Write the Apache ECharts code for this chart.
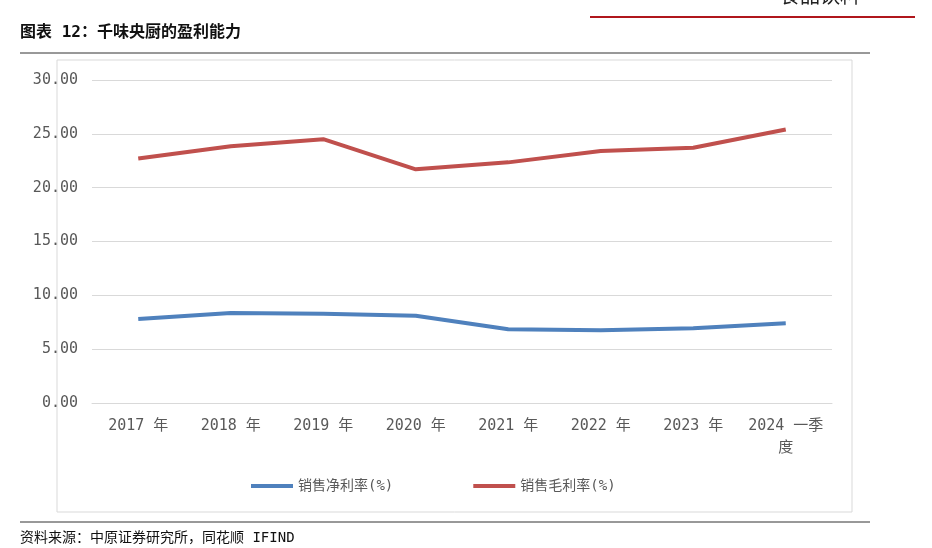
<!DOCTYPE html>
<html>
<head>
<meta charset="utf-8">
<script src="https://cdn.jsdelivr.net/npm/echarts@6/dist/echarts.min.js"></script>
<style>html,body{margin:0;padding:0;background:#fff}#main{width:932px;height:548px}</style>
</head>
<body>
<div id="main"></div>
<script>
var categories = ['2017 年', '2018 年', '2019 年', '2020 年', '2021 年', '2022 年', '2023 年', '2024 一季\n度'];
var netMargin = [7.8, 8.35, 8.3, 8.1, 6.85, 6.75, 6.95, 7.4];
var grossMargin = [22.7, 23.85, 24.5, 21.7, 22.35, 23.4, 23.7, 25.4];
var yTicks = [0, 5, 10, 15, 20, 25, 30];

var font = '"DejaVu Sans Mono", "Noto Sans CJK SC", monospace';
var myChart = echarts.init(document.getElementById('main'));

var option = {
	animation: false,
	textStyle: {fontFamily: font},
	graphic: [
		{type: 'text', left: 780, top: -12, style: {text: '食品饮料', font: '20px ' + font, fill: '#222'}},
		{type: 'line', shape: {x1: 590, y1: 17, x2: 915, y2: 17}, style: {stroke: '#b0161c', lineWidth: 2}},
		{type: 'text', left: 20, top: 25, style: {text: '图表 12：千味央厨的盈利能力', font: 'bold 16px ' + font, fill: '#111'}},
		{type: 'line', shape: {x1: 20, y1: 53, x2: 870, y2: 53}, style: {stroke: '#333', lineWidth: 1}},
		{type: 'rect', shape: {x: 57, y: 60, width: 795, height: 452}, style: {fill: 'none', stroke: '#d9d9d9', lineWidth: 1}},
		{type: 'line', shape: {x1: 20, y1: 522, x2: 870, y2: 522}, style: {stroke: '#333', lineWidth: 1}},
		{type: 'text', left: 20, top: 531, style: {text: '资料来源：中原证券研究所，同花顺 IFIND', font: '14px ' + font, fill: '#111'}}
	],
	grid: {left: 92, right: 100, top: 80, bottom: 145},
	legend: {
		bottom: 50,
		left: 246,
		itemWidth: 42,
		itemGap: 80,
		icon: 'rect',
		itemHeight: 4,
		textStyle: {fontSize: 14, color: '#595959'},
		data: ['销售净利率(%)', '销售毛利率(%)']
	},
	xAxis: {
		type: 'category',
		data: categories,
		axisTick: {show: false},
		axisLine: {lineStyle: {color: '#d9d9d9'}},
		axisLabel: {fontSize: 15, color: '#595959', interval: 0, margin: 12, lineHeight: 22}
	},
	yAxis: {
		type: 'value',
		min: yTicks[0],
		max: yTicks[yTicks.length - 1],
		interval: 5,
		axisLabel: {fontSize: 15, color: '#595959', margin: 14, formatter: function(v){ return v.toFixed(2); }},
		splitLine: {lineStyle: {color: '#d9d9d9'}}
	},
	series: [
		{name: '销售净利率(%)', type: 'line', data: netMargin, symbol: 'none',
			lineStyle: {width: 4, color: '#4f81bd'}, itemStyle: {color: '#4f81bd'}},
		{name: '销售毛利率(%)', type: 'line', data: grossMargin, symbol: 'none',
			lineStyle: {width: 4, color: '#c0504d'}, itemStyle: {color: '#c0504d'}}
	]
};
myChart.setOption(option, true);
</script>
</body>
</html>
